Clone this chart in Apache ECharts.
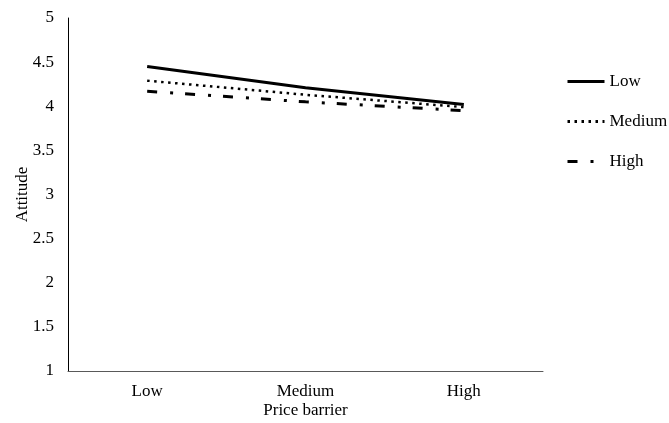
<!DOCTYPE html>
<html><head><meta charset="utf-8">
<script src="https://cdn.jsdelivr.net/npm/echarts@6/dist/echarts.min.js"></script>
<style>html,body{margin:0;padding:0;background:#fff}#c{width:669px;height:423px}</style>
</head><body><div id="c"></div>
<script>
const categories = ['Low', 'Medium', 'High'];
const seriesNames = ['Low', 'Medium', 'High'];
const lowValues = [4.45, 4.21, 4.02];
const mediumValues = [4.29, 4.13, 3.99];
const highValues = [4.17, 4.05, 3.95];
const yTicks = [1, 1.5, 2, 2.5, 3, 3.5, 4, 4.5, 5];

const font = '"Liberation Serif", "Times New Roman", serif';
const chart = echarts.init(document.getElementById('c'));
chart.setOption({
  animation: false,
  textStyle: { fontFamily: font },
  grid: { left: 68, right: 126, top: 18, bottom: 52, outerBoundsMode: 'none', containLabel: false },
  legend: {
    orient: 'vertical', left: 561, top: 68, itemGap: 23, itemWidth: 37, itemHeight: 14,
    itemStyle: { opacity: 0 },
    lineStyle: { width: 3 },
    textStyle: { fontFamily: font, fontSize: 17, color: '#000' },
    data: seriesNames
  },
  xAxis: {
    type: 'category', data: categories, boundaryGap: true,
    axisLine: { lineStyle: { color: '#595959', width: 1 } },
    axisTick: { show: false },
    axisLabel: { color: '#000', fontSize: 17, margin: 12, fontFamily: font },
    name: 'Price barrier', nameLocation: 'middle', nameGap: 31, nameMoveOverlap: false,
    nameTextStyle: { color: '#000', fontSize: 17, fontFamily: font }
  },
  yAxis: {
    type: 'value', min: yTicks[0], max: yTicks[yTicks.length - 1], interval: 0.5,
    axisLine: { show: true, lineStyle: { color: '#000', width: 1 } },
    axisTick: { show: false },
    splitLine: { show: false },
    axisLabel: { color: '#000', fontSize: 17, margin: 14, fontFamily: font },
    name: 'Attitude', nameLocation: 'middle', nameGap: 37, nameRotate: 90, nameMoveOverlap: false,
    nameTextStyle: { color: '#000', fontSize: 17, fontFamily: font }
  },
  series: [
    { name: seriesNames[0], type: 'line', data: lowValues, symbol: 'none',
      lineStyle: { color: '#000', width: 3, type: 'solid' }, itemStyle: { color: '#000' } },
    { name: seriesNames[1], type: 'line', data: mediumValues, symbol: 'none',
      lineStyle: { color: '#000', width: 2.5, type: [2.5, 4.5] }, itemStyle: { color: '#000' } },
    { name: seriesNames[2], type: 'line', data: highValues, symbol: 'none',
      lineStyle: { color: '#000', width: 3, type: [10, 13, 3, 12] }, itemStyle: { color: '#000' } }
  ]
});
</script></body></html>
